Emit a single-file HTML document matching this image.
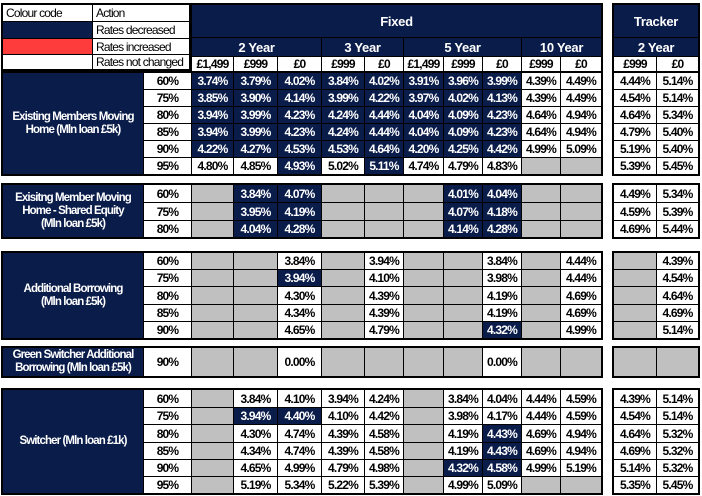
<!DOCTYPE html>
<html><head><meta charset="utf-8">
<style>
html,body{margin:0;padding:0;background:#fff;width:702px;height:496px;overflow:hidden;position:relative}
.s{position:absolute;display:grid;gap:1px;background:#000;border:2px solid #000}
.s>div{display:flex;align-items:center;justify-content:center;background:#fff;color:#000;font:bold 12px "Liberation Sans",Arial,sans-serif;letter-spacing:-0.8px;white-space:nowrap;overflow:hidden;text-align:center}
.s>div.d{background:#0a1c4a;color:#fff}
.s>div.g{background:#c0c0c0}
.s>div.r{background:#ff3c3c}
.s>div.l{white-space:normal;line-height:13px;letter-spacing:-0.9px;font-size:11.5px;color:#fff;background:#0a1c4a}
.s>div.h{font-size:13px;letter-spacing:-0.3px}
.lg>div{font-weight:normal!important;justify-content:flex-start!important;padding-left:3px;letter-spacing:-0.8px!important}
.cols{grid-template-columns:140px 47px 41px 43px 43px 42px 38px 39px 38px 38px 38px 40px}
.hcols{grid-template-columns:41px 43px 43px 42px 38px 39px 38px 38px 38px 40px}
.tcols{grid-template-columns:42px 41px}
</style></head><body>

<!-- legend -->
<div class="s lg" style="left:1px;top:3px;grid-template-columns:89px 96px;grid-template-rows:16px 16px 15px 14px">
<div>Colour code</div><div>Action</div>
<div class="d"></div><div>Rates decreased</div>
<div class="r"></div><div>Rates increased</div>
<div></div><div>Rates not changed</div>
</div>

<!-- fixed header -->
<div class="s hcols" style="left:190px;top:3px;grid-template-rows:32px 18px 14px">
<div class="d h" style="grid-column:span 10">Fixed</div>
<div class="d h" style="grid-column:span 3">2 Year</div>
<div class="d h" style="grid-column:span 2">3 Year</div>
<div class="d h" style="grid-column:span 3">5 Year</div>
<div class="d h" style="grid-column:span 2">10 Year</div>
<div>£1,499</div><div>£999</div><div>£0</div><div>£999</div><div>£0</div><div>£1,499</div><div>£999</div><div>£0</div><div>£999</div><div>£0</div>
</div>

<!-- tracker header -->
<div class="s tcols" style="left:612px;top:3px;grid-template-rows:32px 18px 14px">
<div class="d h" style="grid-column:span 2">Tracker</div>
<div class="d h" style="grid-column:span 2">2 Year</div>
<div>£999</div><div>£0</div>
</div>

<!-- section 1 -->
<div class="s cols" style="left:1px;top:71px;grid-template-rows:repeat(6,16px)">
<div class="l" style="grid-row:span 6">Existing Members Moving<br>Home (Mln loan £5k)</div>
<div>60%</div><div class="d">3.74%</div><div class="d">3.79%</div><div class="d">4.02%</div><div class="d">3.84%</div><div class="d">4.02%</div><div class="d">3.91%</div><div class="d">3.96%</div><div class="d">3.99%</div><div>4.39%</div><div>4.49%</div>
<div>75%</div><div class="d">3.85%</div><div class="d">3.90%</div><div class="d">4.14%</div><div class="d">3.99%</div><div class="d">4.22%</div><div class="d">3.97%</div><div class="d">4.02%</div><div class="d">4.13%</div><div>4.39%</div><div>4.49%</div>
<div>80%</div><div class="d">3.94%</div><div class="d">3.99%</div><div class="d">4.23%</div><div class="d">4.24%</div><div class="d">4.44%</div><div class="d">4.04%</div><div class="d">4.09%</div><div class="d">4.23%</div><div>4.64%</div><div>4.94%</div>
<div>85%</div><div class="d">3.94%</div><div class="d">3.99%</div><div class="d">4.23%</div><div class="d">4.24%</div><div class="d">4.44%</div><div class="d">4.04%</div><div class="d">4.09%</div><div class="d">4.23%</div><div>4.64%</div><div>4.94%</div>
<div>90%</div><div class="d">4.22%</div><div class="d">4.27%</div><div class="d">4.53%</div><div class="d">4.53%</div><div class="d">4.64%</div><div class="d">4.20%</div><div class="d">4.25%</div><div class="d">4.42%</div><div>4.99%</div><div>5.09%</div>
<div>95%</div><div>4.80%</div><div>4.85%</div><div class="d">4.93%</div><div>5.02%</div><div class="d">5.11%</div><div>4.74%</div><div>4.79%</div><div>4.83%</div><div class="g"></div><div class="g"></div>
</div>
<div class="s tcols" style="left:612px;top:71px;grid-template-rows:repeat(6,16px)">
<div>4.44%</div><div>5.14%</div>
<div>4.54%</div><div>5.14%</div>
<div>4.64%</div><div>5.34%</div>
<div>4.79%</div><div>5.40%</div>
<div>5.19%</div><div>5.40%</div>
<div>5.39%</div><div>5.45%</div>
</div>

<!-- section 2 -->
<div class="s cols" style="left:1px;top:183px;grid-template-rows:17px 17px 16px">
<div class="l" style="grid-row:span 3">Exisitng Member Moving<br>Home - Shared Equity<br>(Mln loan £5k)</div>
<div>60%</div><div class="g"></div><div class="d">3.84%</div><div class="d">4.07%</div><div class="g"></div><div class="g"></div><div class="g"></div><div class="d">4.01%</div><div class="d">4.04%</div><div class="g"></div><div class="g"></div>
<div>75%</div><div class="g"></div><div class="d">3.95%</div><div class="d">4.19%</div><div class="g"></div><div class="g"></div><div class="g"></div><div class="d">4.07%</div><div class="d">4.18%</div><div class="g"></div><div class="g"></div>
<div>80%</div><div class="g"></div><div class="d">4.04%</div><div class="d">4.28%</div><div class="g"></div><div class="g"></div><div class="g"></div><div class="d">4.14%</div><div class="d">4.28%</div><div class="g"></div><div class="g"></div>
</div>
<div class="s tcols" style="left:612px;top:183px;grid-template-rows:17px 17px 16px">
<div>4.49%</div><div>5.34%</div>
<div>4.59%</div><div>5.39%</div>
<div>4.69%</div><div>5.44%</div>
</div>

<!-- section 3 -->
<div class="s cols" style="left:1px;top:251px;grid-template-rows:16px 16px 17px 16px 16px">
<div class="l" style="grid-row:span 5">Additional Borrowing<br>(Mln loan £5k)</div>
<div>60%</div><div class="g"></div><div class="g"></div><div>3.84%</div><div class="g"></div><div>3.94%</div><div class="g"></div><div class="g"></div><div>3.84%</div><div class="g"></div><div>4.44%</div>
<div>75%</div><div class="g"></div><div class="g"></div><div class="d">3.94%</div><div class="g"></div><div>4.10%</div><div class="g"></div><div class="g"></div><div>3.98%</div><div class="g"></div><div>4.44%</div>
<div>80%</div><div class="g"></div><div class="g"></div><div>4.30%</div><div class="g"></div><div>4.39%</div><div class="g"></div><div class="g"></div><div>4.19%</div><div class="g"></div><div>4.69%</div>
<div>85%</div><div class="g"></div><div class="g"></div><div>4.34%</div><div class="g"></div><div>4.39%</div><div class="g"></div><div class="g"></div><div>4.19%</div><div class="g"></div><div>4.69%</div>
<div>90%</div><div class="g"></div><div class="g"></div><div>4.65%</div><div class="g"></div><div>4.79%</div><div class="g"></div><div class="g"></div><div class="d">4.32%</div><div class="g"></div><div>4.99%</div>
</div>
<div class="s tcols" style="left:612px;top:251px;grid-template-rows:16px 16px 17px 16px 16px">
<div class="g"></div><div>4.39%</div>
<div class="g"></div><div>4.54%</div>
<div class="g"></div><div>4.64%</div>
<div class="g"></div><div>4.69%</div>
<div class="g"></div><div>5.14%</div>
</div>

<!-- section 4 -->
<div class="s cols" style="left:1px;top:346px;grid-template-rows:28px">
<div class="l">Green Switcher Additional<br>Borrowing (Mln loan £5k)</div>
<div>90%</div><div class="g"></div><div class="g"></div><div>0.00%</div><div class="g"></div><div class="g"></div><div class="g"></div><div class="g"></div><div>0.00%</div><div class="g"></div><div class="g"></div>
</div>
<div class="s tcols" style="left:612px;top:346px;grid-template-rows:28px">
<div class="g"></div><div class="g"></div>
</div>

<!-- section 5 -->
<div class="s cols" style="left:1px;top:388px;grid-template-rows:17px 16px 17px 16px 16px 16px">
<div class="l" style="grid-row:span 6">Switcher (Mln loan £1k)</div>
<div>60%</div><div class="g"></div><div>3.84%</div><div>4.10%</div><div>3.94%</div><div>4.24%</div><div class="g"></div><div>3.84%</div><div>4.04%</div><div>4.44%</div><div>4.59%</div>
<div>75%</div><div class="g"></div><div class="d">3.94%</div><div class="d">4.40%</div><div>4.10%</div><div>4.42%</div><div class="g"></div><div>3.98%</div><div>4.17%</div><div>4.44%</div><div>4.59%</div>
<div>80%</div><div class="g"></div><div>4.30%</div><div>4.74%</div><div>4.39%</div><div>4.58%</div><div class="g"></div><div>4.19%</div><div class="d">4.43%</div><div>4.69%</div><div>4.94%</div>
<div>85%</div><div class="g"></div><div>4.34%</div><div>4.74%</div><div>4.39%</div><div>4.58%</div><div class="g"></div><div>4.19%</div><div class="d">4.43%</div><div>4.69%</div><div>4.94%</div>
<div>90%</div><div class="g"></div><div>4.65%</div><div>4.99%</div><div>4.79%</div><div>4.98%</div><div class="g"></div><div class="d">4.32%</div><div class="d">4.58%</div><div>4.99%</div><div>5.19%</div>
<div>95%</div><div class="g"></div><div>5.19%</div><div>5.34%</div><div>5.22%</div><div>5.39%</div><div class="g"></div><div>4.99%</div><div>5.09%</div><div class="g"></div><div class="g"></div>
</div>
<div class="s tcols" style="left:612px;top:388px;grid-template-rows:17px 16px 17px 16px 16px 16px">
<div>4.39%</div><div>5.14%</div>
<div>4.54%</div><div>5.14%</div>
<div>4.64%</div><div>5.32%</div>
<div>4.69%</div><div>5.32%</div>
<div>5.14%</div><div>5.32%</div>
<div>5.35%</div><div>5.45%</div>
</div>

</body></html>
